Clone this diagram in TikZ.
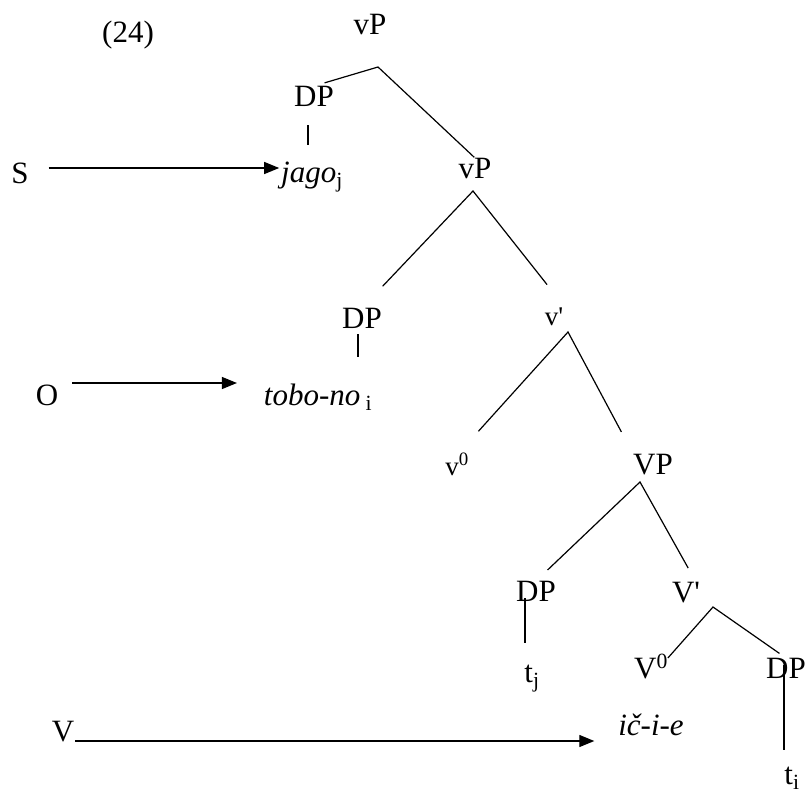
\documentclass[tikz,border=0pt]{standalone}
\usepackage{fontspec}
\setmainfont{Liberation Serif}
\usepackage{tikz}
\usetikzlibrary{arrows.meta}

\begin{document}
\begin{tikzpicture}[
  x=1pt,y=-1pt,
  lab/.style={inner sep=0pt,outer sep=0pt,text height=20pt,text depth=0pt,
              font=\fontsize{31}{37}\selectfont},
  sml/.style={lab,font=\fontsize{27}{32}\selectfont},
  br/.style={line width=1.2pt},
  arr/.style={line width=1.2pt,-{Triangle[length=15pt,width=12pt]}},
]
\useasboundingbox (0,0) rectangle (808,795);

\node[lab] (num) at (128,32) {(24)};
\node[lab] (vp1) at (370,24) {vP};
\node[lab] (dp1) at (314,96) {DP};
\node[lab] (jago) at (312,172) {\textit{jago}\textsubscript{j}};
\node[lab] (subj) at (20,173) {S};
\node[lab] (vp2) at (475,168) {vP};
\node[lab] (dp2) at (362,318) {DP};
\node[lab] (tobo) at (318,395) {\textit{tobo-no}\,\textsubscript{i}};
\node[lab] (obj) at (47,395) {O};
\node[sml] (vbar) at (554,315) {v\textquotesingle};
\node[sml] (vzero) at (457,465) {v\textsuperscript{0}};
\node[lab] (vp3) at (653,464) {VP};
\node[lab] (dp3) at (536,591) {DP};
\node[lab] (tj) at (532,672) {t\textsubscript{j}};
\node[lab] (vbar2) at (686,592) {V\textquotesingle};
\node[lab] (vzero2) at (651,668) {V\textsuperscript{0}};
\node[lab] (dp4) at (786,668) {DP};
\node[lab] (ti) at (792,774) {t\textsubscript{i}};
\node[lab] (icie) at (651,725) {\textit{ič-i-e}};
\node[lab] (verb) at (63,731) {V};

% branching points
\coordinate (b1) at (378,67);
\coordinate (b2) at (473,191);
\coordinate (b3) at (568,332);
\coordinate (b4) at (640,482);
\coordinate (b5) at (713,607);

\draw[br,shorten <=11pt,shorten >=1pt] (dp1.north) -- (b1) -- (vp2.north);
\draw[br,shorten <=30pt,shorten >=26pt] (dp2.north) -- (b2) -- (vbar.north east);
\draw[br,shorten <=32pt,shorten >=25pt] (vzero.north) -- (b3) -- (vp3.north west);
\draw[br,shorten <=16pt,shorten >=16pt] (dp3.north) -- (b4) -- (vbar2.45);
\draw[br,shorten >=8pt] (vzero2.north east) -- (b5) -- (dp4.north);

% DP bars
\draw[br,shorten <=19pt,shorten >=17pt] ([xshift=-6pt]dp1.south) -- ([xshift=-4pt]jago.north);
\draw[br,shorten <=6pt,shorten >=28pt] ([xshift=-4pt]dp2.south) -- ([xshift=-4pt]dp2.south |- tobo.north);
\draw[br,shorten <=-3pt,shorten >=19pt] ([xshift=-11pt]dp3.south) -- ([xshift=-11pt]dp3.south |- tj.north);
\draw[br,shorten <=-13pt,shorten >=14pt] ([xshift=-2pt]dp4.south) -- ([xshift=-2pt]dp4.south |- ti.north);

% S, O, V arrows
\draw[arr,shorten <=20pt,shorten >=2pt] ([yshift=5pt]subj.east) -- ([yshift=5pt]subj.east -| jago.west);
\draw[arr,shorten <=14pt,shorten >=27pt] ([yshift=12pt]obj.east) -- ([yshift=12pt]obj.east -| tobo.west);
\draw[arr,shorten <=1pt,shorten >=24pt] (verb.south east) -- (verb.south east -| icie.west);
\end{tikzpicture}
\end{document}
